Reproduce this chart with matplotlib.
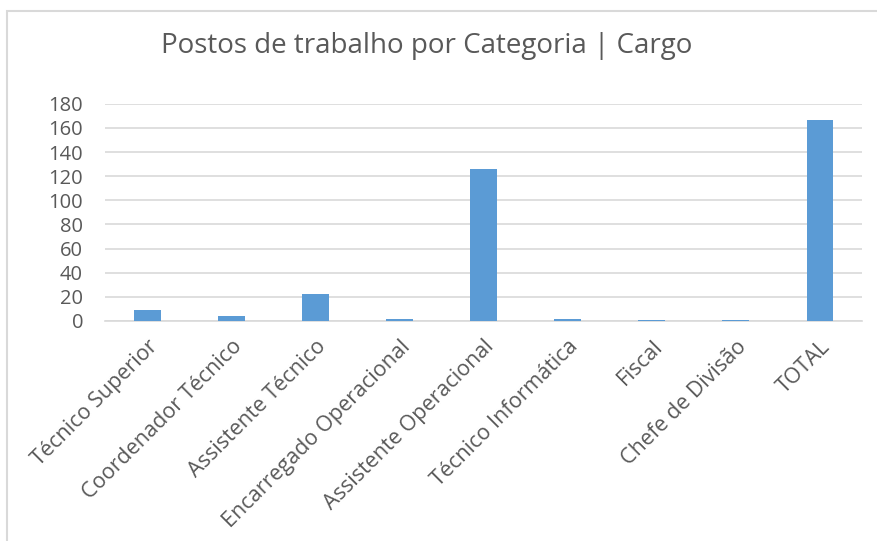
import matplotlib
matplotlib.use('Agg')
import matplotlib.pyplot as plt
from matplotlib.patches import Rectangle

"""
Postos de trabalho por Categoria | Cargo
"""

categorias = ['Técnico Superior', 'Coordenador Técnico', 'Assistente Técnico',
              'Encarregado Operacional', 'Assistente Operacional',
              'Técnico Informática', 'Fiscal', 'Chefe de Divisão', 'TOTAL']
postos = [9, 4, 22, 2, 126, 2, 1, 1, 167]
yticks = [0, 20, 40, 60, 80, 100, 120, 140, 160, 180]

grey = '#595959'
plt.rcParams['font.family'] = ['Open Sans', 'DejaVu Sans']

fig = plt.figure(figsize=(8.77, 5.41), dpi=100)
ax = fig.add_axes([0.12, 0.4067, 0.863, 0.4013])

x = range(len(categorias))
ax.bar(x, postos, width=0.32, color='#5B9BD5', zorder=3)

ax.set_xlim(-0.5, len(categorias) - 0.5)
ax.set_ylim(0, 180)
ax.set_yticks(yticks)
ax.set_yticklabels([str(v) for v in yticks], fontsize=14.5, color=grey)
ax.set_xticks(list(x))
ax.set_xticklabels(categorias, rotation=45, ha='right', rotation_mode='anchor',
                   fontsize=15.5, color=grey)
ax.tick_params(axis='both', length=0)
ax.tick_params(axis='y', pad=16)
ax.tick_params(axis='x', pad=11)
ax.grid(axis='y', color='#D9D9D9', linewidth=1.2, zorder=0)
for s in ['top', 'right', 'left']:
    ax.spines[s].set_visible(False)
ax.spines['bottom'].set_color('#D9D9D9')
ax.spines['bottom'].set_linewidth(1.2)

fig.text(0.487, 0.915, 'Postos de trabalho por Categoria | Cargo', ha='center', va='center',
         fontsize=20, color=grey)

# chart border (only top and left edges visible in the crop)
fig.patches.append(Rectangle((7 / 877, -0.1), 1.2, 1.1 - 11 / 541,
                             transform=fig.transFigure, fill=False,
                             edgecolor='#D9D9D9', linewidth=1.5))

fig.savefig('out.png', dpi=100)
